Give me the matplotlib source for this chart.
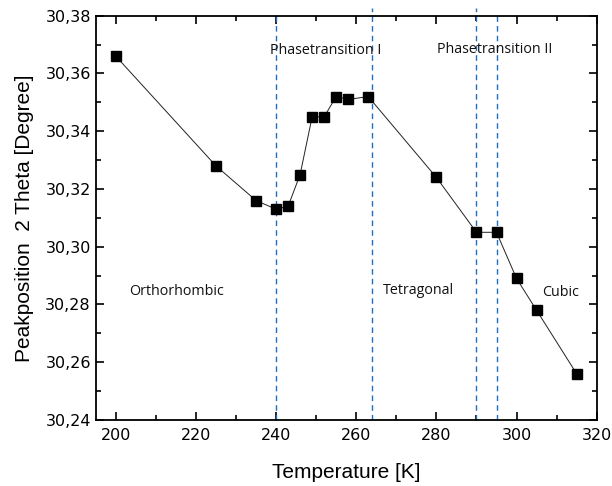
import numpy as np
import matplotlib.pyplot as plt
from matplotlib.ticker import MultipleLocator, FuncFormatter

temperature = [200, 225, 235, 240, 243, 246, 249, 252, 255, 258, 263,
               280, 290, 295, 300, 305, 315]
peak_pos = [30.366, 30.328, 30.316, 30.313, 30.314, 30.325, 30.345, 30.345,
            30.352, 30.351, 30.352, 30.324, 30.305, 30.305, 30.289, 30.278,
            30.256]

transitions = [240, 264, 290, 295]
transition_tops = [30.380, 30.3827, 30.3827, 30.3809]

phase_labels = ["Phasetransition I", "Phasetransition II",
                "Orthorhombic", "Tetragonal", "Cubic"]
phase_pos = [(252.5, 30.3679), (294.6, 30.3684),
             (215.2, 30.2844), (275.6, 30.2850), (311.0, 30.2841)]

fig = plt.figure(figsize=(6.12, 4.86), dpi=100)
ax = fig.add_axes([0.1564, 0.1358, 0.8186, 0.8319])

ax.plot(temperature, peak_pos, color='#222222', lw=0.7, marker='s',
        ms=7.5, mfc='black', mec='black', zorder=3)

for t, top in zip(transitions, transition_tops):
    ax.plot([t, t], [30.24, top], color='#1f6fc0', lw=1.0,
            ls=(0, (4, 3)), clip_on=False, zorder=2)

for txt, (x, y) in zip(phase_labels, phase_pos):
    ax.text(x, y, txt, ha='center', va='center', fontsize=10.3,
            family='Open Sans', color='#111111')

ax.set_xlim(195, 320)
ax.set_ylim(30.24, 30.38)
ax.xaxis.set_major_locator(MultipleLocator(20))
ax.xaxis.set_minor_locator(MultipleLocator(10))
ax.yaxis.set_major_locator(MultipleLocator(0.02))
ax.yaxis.set_minor_locator(MultipleLocator(0.01))
ax.yaxis.set_major_formatter(FuncFormatter(lambda v, p: f"{v:.2f}".replace('.', ',')))

ax.tick_params(which='both', direction='in', top=True, right=True,
               width=1.2, labelsize=11.5)
ax.tick_params(which='major', length=6)
ax.tick_params(which='minor', length=3.5)
ax.tick_params(axis='x', pad=6)
for s in ax.spines.values():
    s.set_linewidth(1.3)

ax.set_xlabel("Temperature [K]", fontsize=15, family='Liberation Sans', labelpad=14)
ax.set_ylabel("Peakposition  2 Theta [Degree]", fontsize=15,
              family='Liberation Sans', labelpad=8)

fig.savefig("out.png", dpi=100)
